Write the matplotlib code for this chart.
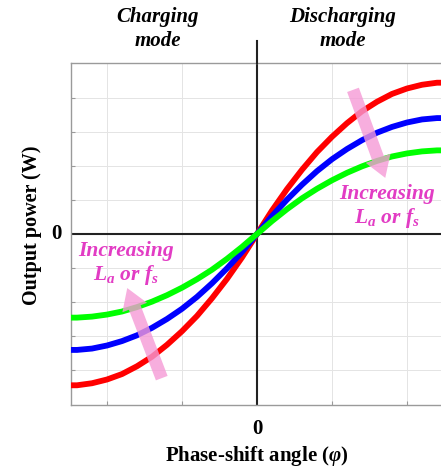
import matplotlib
matplotlib.use("Agg")
import matplotlib.pyplot as plt

# ---- data ----
phase = [-2.48, -2.4, -2.2, -2.0, -1.8, -1.6, -1.4, -1.2, -1.0, -0.8, -0.6, -0.4, -0.2, 0.0,
         0.2, 0.4, 0.6, 0.8, 1.0, 1.2, 1.4, 1.6, 1.8, 2.0, 2.2, 2.4, 2.48]
p_red = [-4.45, -4.45, -4.39, -4.28, -4.12, -3.89, -3.61, -3.26, -2.86, -2.41, -1.89, -1.32, -0.69, 0.0,
         0.69, 1.32, 1.89, 2.41, 2.86, 3.26, 3.61, 3.89, 4.12, 4.28, 4.39, 4.45, 4.45]
p_blue = [-3.41, -3.41, -3.37, -3.28, -3.15, -2.98, -2.76, -2.50, -2.20, -1.85, -1.45, -1.01, -0.53, 0.0,
          0.53, 1.01, 1.45, 1.85, 2.20, 2.50, 2.76, 2.98, 3.15, 3.28, 3.37, 3.41, 3.41]
p_green = [-2.46, -2.46, -2.43, -2.37, -2.28, -2.15, -1.99, -1.80, -1.58, -1.33, -1.05, -0.73, -0.38, 0.0,
           0.38, 0.73, 1.05, 1.33, 1.58, 1.80, 1.99, 2.15, 2.28, 2.37, 2.43, 2.46, 2.46]
x_grid = [-2, -1, 1, 2]
y_grid = [-4, -3, -2, -1, 1, 2, 3, 4]

plt.rcParams['font.family'] = ['Liberation Serif', 'DejaVu Serif']
plt.rcParams['mathtext.fontset'] = 'custom'
plt.rcParams['mathtext.it'] = 'Liberation Serif:italic:bold'
plt.rcParams['mathtext.rm'] = 'Liberation Serif:bold'

fig = plt.figure(figsize=(4.41, 4.72), dpi=100)
ax = fig.add_axes([71/441, 1-405/472, (443-71)/441, (405-63)/472])
ax.set_xlim(-2.48, 2.48)
ax.set_ylim(-5.03, 5.03)

for g in x_grid:
    ax.axvline(g, color='#e4e4e4', lw=0.7, zorder=0)
for g in y_grid:
    ax.axhline(g, color='#e4e4e4', lw=0.7, zorder=0)
ax.axvline(0, color='#222222', lw=1.5, zorder=1)
ax.axhline(0, color='#222222', lw=1.5, zorder=1)

for s in ax.spines.values():
    s.set_color('#9a9a9a')
    s.set_linewidth(1.0)

ax.set_xticks(x_grid)
ax.set_yticks(y_grid)
ax.tick_params(direction='in', length=3, color='#9a9a9a', labelleft=False, labelbottom=False)

ax.plot(phase, p_red, color='#ff0000', lw=4.2, solid_capstyle='butt', zorder=3)
ax.plot(phase, p_blue, color='#0000ff', lw=4.2, solid_capstyle='butt', zorder=3)
ax.plot(phase, p_green, color='#00ff00', lw=4.2, solid_capstyle='butt', zorder=3)

pink = '#f59ad6'
arrow_style = "simple,head_width=1.9,head_length=1.5,tail_width=0.9"
ax.annotate("", xy=(1.71, 1.65), xytext=(1.28, 4.24),
            arrowprops=dict(arrowstyle=arrow_style, color=pink, alpha=0.8, lw=0,
                            mutation_scale=10, shrinkA=0, shrinkB=0), zorder=4)
ax.annotate("", xy=(-1.73, -1.59), xytext=(-1.27, -4.24),
            arrowprops=dict(arrowstyle=arrow_style, color=pink, alpha=0.8, lw=0,
                            mutation_scale=10, shrinkA=0, shrinkB=0), zorder=4)

mag = '#e23cc4'
txt = "Increasing\n$L_a$ or $f_s$"
ax.text(-1.75, (234-264)/34, txt, color=mag, fontsize=15.5, fontweight='bold', fontstyle='italic',
        ha='center', va='center', linespacing=1.15, zorder=5)
ax.text(1.73, (234-207)/34, txt, color=mag, fontsize=15.5, fontweight='bold', fontstyle='italic',
        ha='center', va='center', linespacing=1.15, zorder=5, clip_on=False)

# axis labels
fig.text(257/441, 1-429/472, "0", fontsize=15, fontweight='bold', ha='center', va='center')
fig.text(56/441, 1-234/472, "0", fontsize=15, fontweight='bold', ha='center', va='center')
fig.text(257/441, 1-456/472, r"Phase-shift angle ($\varphi$)", fontsize=15, fontweight='bold',
         ha='center', va='center')
fig.text(32/441, 1-225/472, "Output power (W)", fontsize=14.5, fontweight='bold', rotation=90,
         ha='center', va='center')

fig.text(158/441, 1-29/472, "Charging\nmode", fontsize=15, fontweight='bold', fontstyle='italic',
         ha='center', va='center', linespacing=1.3)
fig.text(343/441, 1-29/472, "Discharging\nmode", fontsize=15, fontweight='bold', fontstyle='italic',
         ha='center', va='center', linespacing=1.3)

# separator line between modes above the axes
fig.add_artist(plt.Line2D([257/441, 257/441], [1-41/472, 1-63/472], color='#222222', lw=1.5))

fig.savefig("out.png", dpi=100)
